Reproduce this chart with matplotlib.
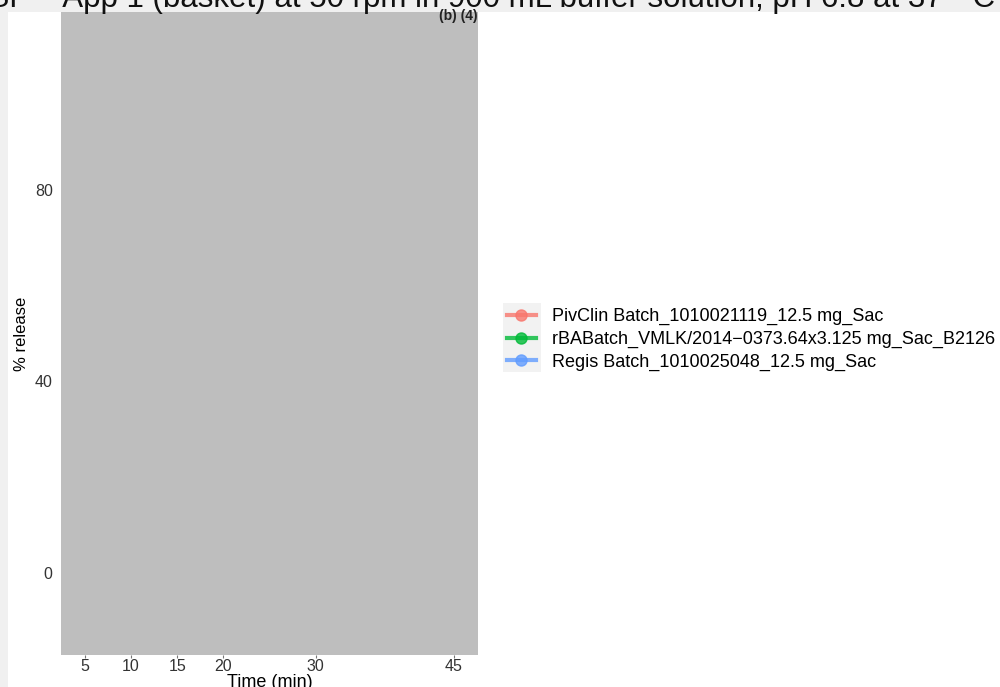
import numpy as np
import matplotlib
matplotlib.use("Agg")
import matplotlib.pyplot as plt
from matplotlib.patches import Rectangle

plt.rcParams['font.family'] = ['Liberation Sans', 'DejaVu Sans']

title = "USP    App 1 (basket) at 50 rpm in 900 mL buffer solution, pH 6.8 at 37 \u00b0 C"
time_ticks = [5, 10, 15, 20, 30, 45]
release_ticks = [0, 40, 80]
batches = [
    "PivClin Batch_1010021119_12.5 mg_Sac",
    "rBABatch_VMLK/2014\u22120373.64x3.125 mg_Sac_B2126",
    "Regis Batch_1010025048_12.5 mg_Sac",
]
colors = ["#F8766D", "#00BA38", "#619CFF"]
# no release values were recorded for these batches
release = {b: [np.nan] * len(time_ticks) for b in batches}

W, H = 1000, 687
fig = plt.figure(figsize=(W / 100, H / 100), dpi=100)
fig.patch.set_facecolor("#f0f0f0")
fig.patches.append(Rectangle((8 / W, 0), 1, 1 - 12 / H, transform=fig.transFigure,
                             facecolor="white", edgecolor="none", zorder=-2))

ax = fig.add_axes([61 / W, 1 - 655 / H, (478 - 61) / W, (655 - 12) / H])
ax.set_facecolor("#bebebe")
for s in ax.spines.values():
    s.set_visible(False)

for b, c in zip(batches, colors):
    ax.plot(time_ticks, release[b], color=c, lw=3, marker="o", ms=8, alpha=0.8, label=b)

ax.set_xlim(2.4, 47.6)
ax.set_ylim(-17.1, 117.1)
ax.set_xticks(time_ticks)
ax.set_yticks(release_ticks)
ax.tick_params(axis="x", length=2, width=0.8, color="#777777", labelsize=11.5, pad=1,
               labelcolor="#333333")
ax.tick_params(axis="y", length=0, labelsize=11.5, pad=6, labelcolor="#333333")
ax.set_xlabel("Time (min)", fontsize=13, labelpad=0)
ax.set_ylabel("% release", fontsize=12, labelpad=4.5)

fig.text(478 / W, 1 - 16 / H, "(b) (4)", ha="right", va="center",
         fontsize=10, fontweight="bold", color="#222222")

# grey key background behind the legend symbols
fig.patches.append(Rectangle((503 / W, 1 - 372 / H), 38 / W, 69 / H, transform=fig.transFigure,
                             facecolor="#f2f2f2", edgecolor="none", zorder=-1))
leg = fig.legend(loc="center left", bbox_to_anchor=(507 / W, 1 - 339.5 / H), frameon=False,
                 fontsize=13, handlelength=1.6, handletextpad=0.9, labelspacing=0.3,
                 borderpad=0, borderaxespad=0)

fig.text(-0.034, 1 - 7 / H, title, ha="left", va="baseline", fontsize=22.5, color="#111111")

fig.savefig("out.png", dpi=100, facecolor=fig.get_facecolor())
